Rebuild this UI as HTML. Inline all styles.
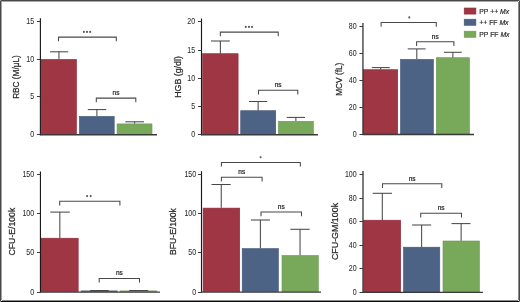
<!DOCTYPE html>
<html><head><meta charset="utf-8"><style>
html,body{margin:0;padding:0;background:#fff;}
body{width:520px;height:302px;overflow:hidden;position:relative;font-family:"Liberation Sans", sans-serif;}
svg{position:absolute;left:0;top:0;display:block;will-change:transform;}
.f{position:absolute;}
</style></head><body>
<svg width="520" height="302" viewBox="0 0 520 302" font-family='"Liberation Sans", sans-serif'>
<rect x="41.10" y="59.40" width="35.40" height="75.00" fill="#9e3644" stroke="#8e2a3a" stroke-width="0.6" />
<rect x="79.40" y="116.40" width="34.80" height="18.00" fill="#4d6385" stroke="#415678" stroke-width="0.6" />
<rect x="117.10" y="123.90" width="34.90" height="10.50" fill="#78a85a" stroke="#6a9a4e" stroke-width="0.6" />
<line x1="58.95" y1="51.80" x2="58.95" y2="59.1" stroke="#484848" stroke-width="1.05"/>
<line x1="50.00" y1="51.80" x2="68.20" y2="51.80" stroke="#484848" stroke-width="1.05"/>
<line x1="96.90" y1="109.60" x2="96.90" y2="116.1" stroke="#484848" stroke-width="1.05"/>
<line x1="87.80" y1="109.60" x2="106.20" y2="109.60" stroke="#484848" stroke-width="1.05"/>
<line x1="134.60" y1="121.80" x2="134.60" y2="123.6" stroke="#484848" stroke-width="1.05"/>
<line x1="125.30" y1="121.80" x2="144.00" y2="121.80" stroke="#484848" stroke-width="1.05"/>
<line x1="40.4" y1="18.2" x2="40.4" y2="135.29999999999998" stroke="#1a1a1a" stroke-width="1.15"/>
<line x1="39.9" y1="134.79999999999998" x2="157" y2="134.79999999999998" stroke="#3a3a3a" stroke-width="1.4"/>
<line x1="36.9" y1="21.5" x2="40.4" y2="21.5" stroke="#333" stroke-width="0.95"/>
<text transform="translate(34.1 23.95) scale(0.83 1)" font-size="8.5" text-anchor="end" fill="#2a2a2a" stroke="#2a2a2a" stroke-width="0.05">15</text>
<line x1="36.9" y1="59.5" x2="40.4" y2="59.5" stroke="#333" stroke-width="0.95"/>
<text transform="translate(34.1 61.75) scale(0.83 1)" font-size="8.5" text-anchor="end" fill="#2a2a2a" stroke="#2a2a2a" stroke-width="0.05">10</text>
<line x1="36.9" y1="96.5" x2="40.4" y2="96.5" stroke="#333" stroke-width="0.95"/>
<text transform="translate(34.1 99.45) scale(0.83 1)" font-size="8.5" text-anchor="end" fill="#2a2a2a" stroke="#2a2a2a" stroke-width="0.05">5</text>
<line x1="36.9" y1="134.5" x2="40.4" y2="134.5" stroke="#333" stroke-width="0.95"/>
<text transform="translate(34.1 137.25) scale(0.83 1)" font-size="8.5" text-anchor="end" fill="#2a2a2a" stroke="#2a2a2a" stroke-width="0.05">0</text>
<path d="M58.50 41.30 V37.10 H116.30 V41.30" fill="none" stroke="#484848" stroke-width="1.05"/>
<path d="M96.30 102.30 V98.10 H135.80 V102.30" fill="none" stroke="#484848" stroke-width="1.05"/>
<text x="116.05" y="95.40" font-size="7.0" text-anchor="middle" fill="#2a2a2a" stroke="#2a2a2a" stroke-width="0.25" transform="translate(116.05 0) scale(0.93 1) translate(-116.05 0)">ns</text>
<circle cx="83.9" cy="31.9" r="1.05" fill="#585858"/>
<circle cx="87.0" cy="31.9" r="1.05" fill="#585858"/>
<circle cx="90.15" cy="31.9" r="1.05" fill="#585858"/>
<text transform="translate(18.8 77.0) rotate(-90) scale(0.850 1)" x="0" y="0" font-size="9.7" text-anchor="middle" fill="#2a2a2a" stroke="#2a2a2a" stroke-width="0.25">RBC (M/μL)</text>
<rect x="202.60" y="53.70" width="35.50" height="80.70" fill="#9e3644" stroke="#8e2a3a" stroke-width="0.6" />
<rect x="240.70" y="110.70" width="35.00" height="23.70" fill="#4d6385" stroke="#415678" stroke-width="0.6" />
<rect x="278.40" y="121.30" width="35.00" height="13.10" fill="#78a85a" stroke="#6a9a4e" stroke-width="0.6" />
<line x1="220.38" y1="41.00" x2="220.38" y2="53.4" stroke="#484848" stroke-width="1.05"/>
<line x1="211.00" y1="41.00" x2="229.80" y2="41.00" stroke="#484848" stroke-width="1.05"/>
<line x1="258.12" y1="101.50" x2="258.12" y2="110.4" stroke="#484848" stroke-width="1.05"/>
<line x1="248.90" y1="101.50" x2="267.20" y2="101.50" stroke="#484848" stroke-width="1.05"/>
<line x1="295.88" y1="117.40" x2="295.88" y2="121" stroke="#484848" stroke-width="1.05"/>
<line x1="286.70" y1="117.40" x2="305.00" y2="117.40" stroke="#484848" stroke-width="1.05"/>
<line x1="201.5" y1="18.5" x2="201.5" y2="135.29999999999998" stroke="#1a1a1a" stroke-width="1.15"/>
<line x1="201.0" y1="134.79999999999998" x2="318" y2="134.79999999999998" stroke="#3a3a3a" stroke-width="1.4"/>
<line x1="198.0" y1="21.5" x2="201.5" y2="21.5" stroke="#333" stroke-width="0.95"/>
<text transform="translate(195.2 24.25) scale(0.83 1)" font-size="8.5" text-anchor="end" fill="#2a2a2a" stroke="#2a2a2a" stroke-width="0.05">20</text>
<line x1="198.0" y1="50.5" x2="201.5" y2="50.5" stroke="#333" stroke-width="0.95"/>
<text transform="translate(195.2 52.55) scale(0.83 1)" font-size="8.5" text-anchor="end" fill="#2a2a2a" stroke="#2a2a2a" stroke-width="0.05">15</text>
<line x1="198.0" y1="78.5" x2="201.5" y2="78.5" stroke="#333" stroke-width="0.95"/>
<text transform="translate(195.2 80.75) scale(0.83 1)" font-size="8.5" text-anchor="end" fill="#2a2a2a" stroke="#2a2a2a" stroke-width="0.05">10</text>
<line x1="198.0" y1="106.5" x2="201.5" y2="106.5" stroke="#333" stroke-width="0.95"/>
<text transform="translate(195.2 109.05) scale(0.83 1)" font-size="8.5" text-anchor="end" fill="#2a2a2a" stroke="#2a2a2a" stroke-width="0.05">5</text>
<line x1="198.0" y1="134.5" x2="201.5" y2="134.5" stroke="#333" stroke-width="0.95"/>
<text transform="translate(195.2 137.25) scale(0.83 1)" font-size="8.5" text-anchor="end" fill="#2a2a2a" stroke="#2a2a2a" stroke-width="0.05">0</text>
<path d="M220.30 36.30 V32.10 H278.20 V36.30" fill="none" stroke="#484848" stroke-width="1.05"/>
<path d="M258.50 94.50 V90.30 H297.80 V94.50" fill="none" stroke="#484848" stroke-width="1.05"/>
<text x="278.15" y="86.70" font-size="7.0" text-anchor="middle" fill="#2a2a2a" stroke="#2a2a2a" stroke-width="0.25" transform="translate(278.15 0) scale(0.93 1) translate(-278.15 0)">ns</text>
<circle cx="245.8" cy="26.9" r="1.05" fill="#585858"/>
<circle cx="248.9" cy="26.9" r="1.05" fill="#585858"/>
<circle cx="252.05" cy="26.9" r="1.05" fill="#585858"/>
<text transform="translate(180.6 77.0) rotate(-90) scale(0.911 1)" x="0" y="0" font-size="9.7" text-anchor="middle" fill="#2a2a2a" stroke="#2a2a2a" stroke-width="0.25">HGB (g/dl)</text>
<rect x="363.50" y="69.70" width="34.20" height="64.40" fill="#9e3644" stroke="#8e2a3a" stroke-width="0.6" />
<rect x="400.50" y="59.40" width="32.90" height="74.70" fill="#4d6385" stroke="#415678" stroke-width="0.6" />
<rect x="436.30" y="57.70" width="33.20" height="76.40" fill="#78a85a" stroke="#6a9a4e" stroke-width="0.6" />
<line x1="380.68" y1="67.60" x2="380.68" y2="69.4" stroke="#484848" stroke-width="1.05"/>
<line x1="371.80" y1="67.60" x2="389.70" y2="67.60" stroke="#484848" stroke-width="1.05"/>
<line x1="416.80" y1="48.90" x2="416.80" y2="59.1" stroke="#484848" stroke-width="1.05"/>
<line x1="407.70" y1="48.90" x2="425.60" y2="48.90" stroke="#484848" stroke-width="1.05"/>
<line x1="452.88" y1="52.30" x2="452.88" y2="57.4" stroke="#484848" stroke-width="1.05"/>
<line x1="444.00" y1="52.30" x2="461.70" y2="52.30" stroke="#484848" stroke-width="1.05"/>
<line x1="362.95" y1="23" x2="362.95" y2="135.0" stroke="#1a1a1a" stroke-width="1.15"/>
<line x1="362.45" y1="134.5" x2="474" y2="134.5" stroke="#3a3a3a" stroke-width="1.4"/>
<line x1="359.45" y1="26.5" x2="362.95" y2="26.5" stroke="#333" stroke-width="0.95"/>
<text transform="translate(356.65 29.00) scale(0.83 1)" font-size="8.5" text-anchor="end" fill="#2a2a2a" stroke="#2a2a2a" stroke-width="0.05">80</text>
<line x1="359.45" y1="53.5" x2="362.95" y2="53.5" stroke="#333" stroke-width="0.95"/>
<text transform="translate(356.65 55.95) scale(0.83 1)" font-size="8.5" text-anchor="end" fill="#2a2a2a" stroke="#2a2a2a" stroke-width="0.05">60</text>
<line x1="359.45" y1="80.5" x2="362.95" y2="80.5" stroke="#333" stroke-width="0.95"/>
<text transform="translate(356.65 82.95) scale(0.83 1)" font-size="8.5" text-anchor="end" fill="#2a2a2a" stroke="#2a2a2a" stroke-width="0.05">40</text>
<line x1="359.45" y1="107.5" x2="362.95" y2="107.5" stroke="#333" stroke-width="0.95"/>
<text transform="translate(356.65 109.95) scale(0.83 1)" font-size="8.5" text-anchor="end" fill="#2a2a2a" stroke="#2a2a2a" stroke-width="0.05">20</text>
<line x1="359.45" y1="134.5" x2="362.95" y2="134.5" stroke="#333" stroke-width="0.95"/>
<text transform="translate(356.65 136.95) scale(0.83 1)" font-size="8.5" text-anchor="end" fill="#2a2a2a" stroke="#2a2a2a" stroke-width="0.05">0</text>
<path d="M381.10 26.70 V22.50 H436.30 V26.70" fill="none" stroke="#484848" stroke-width="1.05"/>
<path d="M416.60 45.90 V41.70 H453.90 V45.90" fill="none" stroke="#484848" stroke-width="1.05"/>
<text x="435.25" y="38.90" font-size="7.0" text-anchor="middle" fill="#2a2a2a" stroke="#2a2a2a" stroke-width="0.25" transform="translate(435.25 0) scale(0.93 1) translate(-435.25 0)">ns</text>
<circle cx="409.3" cy="17.4" r="1.05" fill="#585858"/>
<text transform="translate(341.7 79.25) rotate(-90) scale(0.853 1)" x="0" y="0" font-size="9.7" text-anchor="middle" fill="#2a2a2a" stroke="#2a2a2a" stroke-width="0.25">MCV (fL)</text>
<rect x="41.00" y="238.20" width="37.20" height="53.50" fill="#9e3644" stroke="#8e2a3a" stroke-width="0.6" />
<rect x="81.00" y="290.90" width="36.60" height="0.80" fill="#4d6385" stroke="#415678" stroke-width="0.6" />
<rect x="119.90" y="290.90" width="37.00" height="0.80" fill="#78a85a" stroke="#6a9a4e" stroke-width="0.6" />
<line x1="59.83" y1="212.10" x2="59.83" y2="237.9" stroke="#484848" stroke-width="1.05"/>
<line x1="50.30" y1="212.10" x2="69.80" y2="212.10" stroke="#484848" stroke-width="1.05"/>
<line x1="99.38" y1="290.50" x2="99.38" y2="290.6" stroke="#484848" stroke-width="1.05"/>
<line x1="90.20" y1="290.50" x2="108.70" y2="290.50" stroke="#484848" stroke-width="1.05"/>
<line x1="138.55" y1="290.50" x2="138.55" y2="290.6" stroke="#484848" stroke-width="1.05"/>
<line x1="129.20" y1="290.50" x2="148.20" y2="290.50" stroke="#484848" stroke-width="1.05"/>
<line x1="40.45" y1="171.5" x2="40.45" y2="292.6" stroke="#1a1a1a" stroke-width="1.15"/>
<line x1="39.95" y1="292.1" x2="160" y2="292.1" stroke="#3a3a3a" stroke-width="1.4"/>
<line x1="36.95" y1="174.5" x2="40.45" y2="174.5" stroke="#333" stroke-width="0.95"/>
<text transform="translate(34.150000000000006 176.95) scale(0.83 1)" font-size="8.5" text-anchor="end" fill="#2a2a2a" stroke="#2a2a2a" stroke-width="0.05">150</text>
<line x1="36.95" y1="213.5" x2="40.45" y2="213.5" stroke="#333" stroke-width="0.95"/>
<text transform="translate(34.150000000000006 216.15) scale(0.83 1)" font-size="8.5" text-anchor="end" fill="#2a2a2a" stroke="#2a2a2a" stroke-width="0.05">100</text>
<line x1="36.95" y1="252.5" x2="40.45" y2="252.5" stroke="#333" stroke-width="0.95"/>
<text transform="translate(34.150000000000006 255.35) scale(0.83 1)" font-size="8.5" text-anchor="end" fill="#2a2a2a" stroke="#2a2a2a" stroke-width="0.05">50</text>
<line x1="36.95" y1="292.5" x2="40.45" y2="292.5" stroke="#333" stroke-width="0.95"/>
<text transform="translate(34.150000000000006 294.55) scale(0.83 1)" font-size="8.5" text-anchor="end" fill="#2a2a2a" stroke="#2a2a2a" stroke-width="0.05">0</text>
<path d="M59.70 205.50 V201.30 H119.90 V205.50" fill="none" stroke="#484848" stroke-width="1.05"/>
<path d="M99.20 282.60 V278.40 H139.50 V282.60" fill="none" stroke="#484848" stroke-width="1.05"/>
<text x="119.35" y="274.90" font-size="7.0" text-anchor="middle" fill="#2a2a2a" stroke="#2a2a2a" stroke-width="0.25" transform="translate(119.35 0) scale(0.93 1) translate(-119.35 0)">ns</text>
<circle cx="87.1" cy="196.1" r="1.05" fill="#585858"/>
<circle cx="90.65" cy="196.1" r="1.05" fill="#585858"/>
<text transform="translate(15.3 231.6) rotate(-90) scale(0.895 1)" x="0" y="0" font-size="9.7" text-anchor="middle" fill="#2a2a2a" stroke="#2a2a2a" stroke-width="0.25">CFU-E/100k</text>
<rect x="203.10" y="208.10" width="36.60" height="83.60" fill="#9e3644" stroke="#8e2a3a" stroke-width="0.6" />
<rect x="242.20" y="248.60" width="36.20" height="43.10" fill="#4d6385" stroke="#415678" stroke-width="0.6" />
<rect x="282.00" y="255.50" width="36.30" height="36.20" fill="#78a85a" stroke="#6a9a4e" stroke-width="0.6" />
<line x1="221.25" y1="184.50" x2="221.25" y2="207.8" stroke="#484848" stroke-width="1.05"/>
<line x1="211.50" y1="184.50" x2="230.70" y2="184.50" stroke="#484848" stroke-width="1.05"/>
<line x1="260.38" y1="220.00" x2="260.38" y2="248.3" stroke="#484848" stroke-width="1.05"/>
<line x1="250.90" y1="220.00" x2="270.00" y2="220.00" stroke="#484848" stroke-width="1.05"/>
<line x1="300.05" y1="229.30" x2="300.05" y2="255.2" stroke="#484848" stroke-width="1.05"/>
<line x1="290.30" y1="229.30" x2="309.60" y2="229.30" stroke="#484848" stroke-width="1.05"/>
<line x1="201.5" y1="171.2" x2="201.5" y2="292.6" stroke="#1a1a1a" stroke-width="1.15"/>
<line x1="201.0" y1="292.1" x2="321" y2="292.1" stroke="#3a3a3a" stroke-width="1.4"/>
<line x1="198.0" y1="174.5" x2="201.5" y2="174.5" stroke="#333" stroke-width="0.95"/>
<text transform="translate(196.2 177.05) scale(0.83 1)" font-size="8.5" text-anchor="end" fill="#2a2a2a" stroke="#2a2a2a" stroke-width="0.05">150</text>
<line x1="198.0" y1="213.5" x2="201.5" y2="213.5" stroke="#333" stroke-width="0.95"/>
<text transform="translate(196.2 216.15) scale(0.83 1)" font-size="8.5" text-anchor="end" fill="#2a2a2a" stroke="#2a2a2a" stroke-width="0.05">100</text>
<line x1="198.0" y1="252.5" x2="201.5" y2="252.5" stroke="#333" stroke-width="0.95"/>
<text transform="translate(196.2 255.45) scale(0.83 1)" font-size="8.5" text-anchor="end" fill="#2a2a2a" stroke="#2a2a2a" stroke-width="0.05">50</text>
<line x1="198.0" y1="292.5" x2="201.5" y2="292.5" stroke="#333" stroke-width="0.95"/>
<text transform="translate(196.2 294.55) scale(0.83 1)" font-size="8.5" text-anchor="end" fill="#2a2a2a" stroke="#2a2a2a" stroke-width="0.05">0</text>
<path d="M221.40 166.60 V162.40 H300.30 V166.60" fill="none" stroke="#484848" stroke-width="1.05"/>
<path d="M221.40 181.40 V177.20 H262.10 V181.40" fill="none" stroke="#484848" stroke-width="1.05"/>
<text x="241.75" y="174.10" font-size="7.0" text-anchor="middle" fill="#2a2a2a" stroke="#2a2a2a" stroke-width="0.25" transform="translate(241.75 0) scale(0.93 1) translate(-241.75 0)">ns</text>
<path d="M261.00 216.20 V212.00 H301.50 V216.20" fill="none" stroke="#484848" stroke-width="1.05"/>
<text x="281.25" y="208.90" font-size="7.0" text-anchor="middle" fill="#2a2a2a" stroke="#2a2a2a" stroke-width="0.25" transform="translate(281.25 0) scale(0.93 1) translate(-281.25 0)">ns</text>
<circle cx="260.6" cy="157.2" r="1.05" fill="#585858"/>
<text transform="translate(176.3 231.5) rotate(-90) scale(0.886 1)" x="0" y="0" font-size="9.7" text-anchor="middle" fill="#2a2a2a" stroke="#2a2a2a" stroke-width="0.25">BFU-E/100k</text>
<rect x="363.80" y="220.20" width="36.90" height="71.80" fill="#9e3644" stroke="#8e2a3a" stroke-width="0.6" />
<rect x="403.50" y="247.20" width="36.30" height="44.80" fill="#4d6385" stroke="#415678" stroke-width="0.6" />
<rect x="443.00" y="241.00" width="36.50" height="51.00" fill="#78a85a" stroke="#6a9a4e" stroke-width="0.6" />
<line x1="382.30" y1="193.30" x2="382.30" y2="219.9" stroke="#484848" stroke-width="1.05"/>
<line x1="372.70" y1="193.30" x2="392.00" y2="193.30" stroke="#484848" stroke-width="1.05"/>
<line x1="421.62" y1="225.00" x2="421.62" y2="246.9" stroke="#484848" stroke-width="1.05"/>
<line x1="412.10" y1="225.00" x2="431.10" y2="225.00" stroke="#484848" stroke-width="1.05"/>
<line x1="461.12" y1="223.60" x2="461.12" y2="240.7" stroke="#484848" stroke-width="1.05"/>
<line x1="451.50" y1="223.60" x2="470.50" y2="223.60" stroke="#484848" stroke-width="1.05"/>
<line x1="363.0" y1="171.1" x2="363.0" y2="292.90000000000003" stroke="#1a1a1a" stroke-width="1.15"/>
<line x1="362.5" y1="292.40000000000003" x2="483" y2="292.40000000000003" stroke="#3a3a3a" stroke-width="1.4"/>
<line x1="359.5" y1="174.5" x2="363.0" y2="174.5" stroke="#333" stroke-width="0.95"/>
<text transform="translate(356.7 177.15) scale(0.83 1)" font-size="8.5" text-anchor="end" fill="#2a2a2a" stroke="#2a2a2a" stroke-width="0.05">100</text>
<line x1="359.5" y1="198.5" x2="363.0" y2="198.5" stroke="#333" stroke-width="0.95"/>
<text transform="translate(356.7 200.75) scale(0.83 1)" font-size="8.5" text-anchor="end" fill="#2a2a2a" stroke="#2a2a2a" stroke-width="0.05">80</text>
<line x1="359.5" y1="221.5" x2="363.0" y2="221.5" stroke="#333" stroke-width="0.95"/>
<text transform="translate(356.7 224.25) scale(0.83 1)" font-size="8.5" text-anchor="end" fill="#2a2a2a" stroke="#2a2a2a" stroke-width="0.05">60</text>
<line x1="359.5" y1="245.5" x2="363.0" y2="245.5" stroke="#333" stroke-width="0.95"/>
<text transform="translate(356.7 247.85) scale(0.83 1)" font-size="8.5" text-anchor="end" fill="#2a2a2a" stroke="#2a2a2a" stroke-width="0.05">40</text>
<line x1="359.5" y1="268.5" x2="363.0" y2="268.5" stroke="#333" stroke-width="0.95"/>
<text transform="translate(356.7 271.35) scale(0.83 1)" font-size="8.5" text-anchor="end" fill="#2a2a2a" stroke="#2a2a2a" stroke-width="0.05">20</text>
<line x1="359.5" y1="292.5" x2="363.0" y2="292.5" stroke="#333" stroke-width="0.95"/>
<text transform="translate(356.7 294.85) scale(0.83 1)" font-size="8.5" text-anchor="end" fill="#2a2a2a" stroke="#2a2a2a" stroke-width="0.05">0</text>
<path d="M382.50 187.90 V183.70 H441.80 V187.90" fill="none" stroke="#484848" stroke-width="1.05"/>
<text x="412.15" y="180.80" font-size="7.0" text-anchor="middle" fill="#2a2a2a" stroke="#2a2a2a" stroke-width="0.25" transform="translate(412.15 0) scale(0.93 1) translate(-412.15 0)">ns</text>
<path d="M420.70 217.40 V213.20 H461.50 V217.40" fill="none" stroke="#484848" stroke-width="1.05"/>
<text x="441.10" y="210.40" font-size="7.0" text-anchor="middle" fill="#2a2a2a" stroke="#2a2a2a" stroke-width="0.25" transform="translate(441.10 0) scale(0.93 1) translate(-441.10 0)">ns</text>
<text transform="translate(337.6 231.5) rotate(-90) scale(0.916 1)" x="0" y="0" font-size="9.7" text-anchor="middle" fill="#2a2a2a" stroke="#2a2a2a" stroke-width="0.25">CFU-GM/100k</text>
<rect x="464.2" y="8.00" width="11.700000000000001" height="6.1000000000000005" fill="#9e3644" stroke="#8e2a3a" stroke-width="0.6"/>
<text transform="translate(479.3 13.90) scale(0.925 1)" font-size="7.4" fill="#2a2a2a" stroke="#2a2a2a" stroke-width="0.2">PP ++ <tspan font-style="italic">Mx</tspan></text>
<rect x="464.2" y="19.20" width="11.700000000000001" height="6.1000000000000005" fill="#4d6385" stroke="#415678" stroke-width="0.6"/>
<text transform="translate(479.3 25.10) scale(0.925 1)" font-size="7.4" fill="#2a2a2a" stroke="#2a2a2a" stroke-width="0.2">++ FF <tspan font-style="italic">Mx</tspan></text>
<rect x="464.2" y="31.20" width="11.700000000000001" height="6.1000000000000005" fill="#78a85a" stroke="#6a9a4e" stroke-width="0.6"/>
<text transform="translate(479.3 37.10) scale(0.925 1)" font-size="7.4" fill="#2a2a2a" stroke="#2a2a2a" stroke-width="0.2">PP FF <tspan font-style="italic">Mx</tspan></text>
</svg>
<div class="f" style="left:0;top:1px;width:1px;height:300px;background:#484848"></div>
<div class="f" style="left:1px;top:1px;width:1px;height:299px;background:#a4a4a4"></div>
<div class="f" style="left:1px;top:0;width:518px;height:1px;background:#484848"></div>
<div class="f" style="left:2px;top:1px;width:516px;height:1px;background:#a8a8a8"></div>
<div class="f" style="left:519px;top:1px;width:1px;height:300px;background:#484848"></div>
<div class="f" style="left:518px;top:2px;width:1px;height:298px;background:#8c8c8c"></div>
<div class="f" style="left:1px;top:301px;width:518px;height:1px;background:#0a0a0a"></div>
<div class="f" style="left:2px;top:300px;width:516px;height:1px;background:#8a8a8a"></div>
<div class="f" style="left:0;top:0;width:1px;height:1px;background:#9a9a9a"></div>
<div class="f" style="left:519px;top:0;width:1px;height:1px;background:#9a9a9a"></div>
<div class="f" style="left:0;top:301px;width:1px;height:1px;background:#8a8a8a"></div>
<div class="f" style="left:519px;top:301px;width:1px;height:1px;background:#8a8a8a"></div>
</body></html>
